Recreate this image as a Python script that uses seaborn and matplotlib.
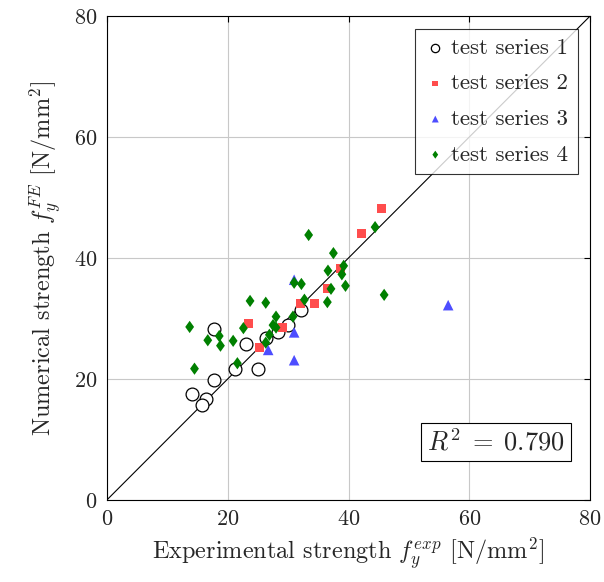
import numpy as np
import pandas as pd
import seaborn as sns
import matplotlib
matplotlib.use("Agg")
import matplotlib.pyplot as plt

# experimental vs numerical strength
s1_exp = [17.8, 23.0, 21.2, 25.0, 17.7, 14.1, 16.4, 15.7, 26.4, 28.3, 29.9, 32.1]
s1_fe = [28.2, 25.8, 21.6, 21.7, 19.9, 17.5, 16.7, 15.7, 26.7, 27.7, 28.9, 31.4]

s2_exp = [23.5, 25.3, 29.0, 32.0, 34.4, 36.6, 38.7, 42.2, 45.5]
s2_fe = [29.1, 25.2, 28.5, 32.5, 32.4, 35.0, 38.3, 44.1, 48.2]

s3_exp = [31.0, 26.7, 31.0, 31.0, 56.5]
s3_fe = [36.4, 24.8, 27.7, 23.1, 32.2]

s4_exp = [13.7, 14.5, 16.7, 18.6, 18.8, 20.9, 21.6, 22.6, 23.7, 26.3, 28.0, 27.5,
          28.0, 26.9, 26.3, 30.8, 31.0, 33.4, 32.2, 37.5, 36.6, 39.2, 38.9, 37.1,
          39.5, 36.5, 32.7, 44.4, 45.9]
s4_fe = [28.6, 21.7, 26.4, 27.1, 25.5, 26.3, 22.6, 28.4, 32.9, 32.6, 30.3, 28.9,
         28.5, 27.3, 26.0, 30.3, 35.9, 43.8, 35.7, 40.8, 37.9, 38.7, 37.3, 34.9,
         35.4, 32.7, 33.1, 45.1, 33.9]

r2 = 0.790

sns.set_style("whitegrid")
plt.rcParams['font.family'] = ['cmr10', 'DejaVu Serif']
plt.rcParams['mathtext.fontset'] = 'cm'
plt.rcParams['axes.formatter.use_mathtext'] = True
plt.rcParams['axes.unicode_minus'] = False

fig = plt.figure(figsize=(6.04, 5.82), dpi=100)
ax = fig.add_axes([0.177, 0.141, 0.8, 0.8315])

ax.plot([0, 80], [0, 80], color='black', lw=0.8, zorder=1)

diamond = [(-0.72, 0), (0, 1), (0.72, 0), (0, -1)]

sns.scatterplot(x=s1_exp, y=s1_fe, ax=ax, marker='o', s=85, facecolor='white',
                edgecolor='black', linewidth=0.9, label='test series 1', zorder=3)
sns.scatterplot(x=s2_exp, y=s2_fe, ax=ax, marker='s', s=42, color='#ff4d4d',
                edgecolor='none', label='test series 2', zorder=3)
sns.scatterplot(x=s3_exp, y=s3_fe, ax=ax, marker='^', s=58, color='#4d4dff',
                edgecolor='none', label='test series 3', zorder=3)
sns.scatterplot(x=s4_exp, y=s4_fe, ax=ax, marker=diamond, s=78, color='#008000',
                edgecolor='none', label='test series 4', zorder=3)

ax.set_xlim(0, 80)
ax.set_ylim(0, 80)
ax.set_xticks([0, 20, 40, 60, 80])
ax.set_yticks([0, 20, 40, 60, 80])
ax.grid(color='#c8c8c8', lw=0.8)
for sp in ax.spines.values():
    sp.set_edgecolor('black')
    sp.set_linewidth(0.8)
ax.tick_params(direction='in', length=4, color='black', labelsize=16, pad=7,
               top=True, right=True)

ax.set_xlabel(r'Experimental strength $f_y^{exp}$ [N/mm$^2$]', fontsize=17.5, labelpad=5)
ax.set_ylabel(r'Numerical strength $f_y^{FE}$ [N/mm$^2$]', fontsize=17.5, labelpad=7)

leg = ax.legend(loc='upper right', fontsize=16.5, frameon=True, fancybox=False,
                edgecolor='black', handletextpad=0.2, borderpad=0.4,
                labelspacing=0.68, handlelength=1.0, borderaxespad=0.55,
                markerscale=0.65)
leg.get_frame().set_linewidth(0.8)

ax.text(0.948, 0.12, r'$R^2 \;=\; 0.790$', transform=ax.transAxes, fontsize=19,
        ha='right', va='center',
        bbox=dict(boxstyle='square,pad=0.22', facecolor='white', edgecolor='black', lw=0.8))

fig.savefig('out.png', dpi=100)
